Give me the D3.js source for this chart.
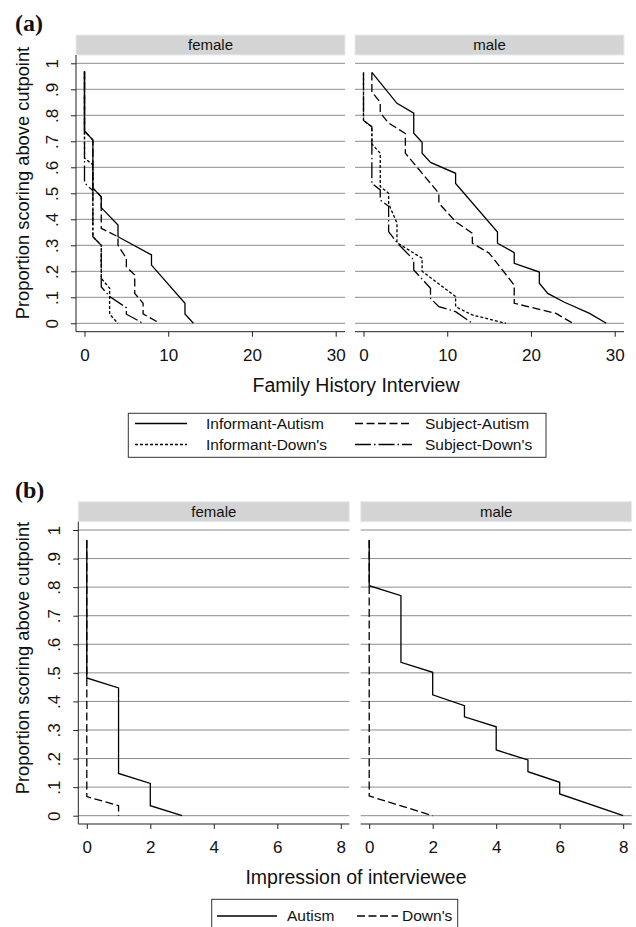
<!DOCTYPE html>
<html>
<head>
<meta charset="utf-8">
<script src="https://cdnjs.cloudflare.com/ajax/libs/d3/7.8.5/d3.min.js"></script>
<style>
body { margin: 0; background: #fff; }
text { font-family: "Liberation Sans", Arial, Helvetica, sans-serif; fill: #111; }
</style>
</head>
<body>
<div id="chart-area"></div>
<script>
// ---- data ----
var panels = ["female", "male"];
var yTicks = [0, .1, .2, .3, .4, .5, .6, .7, .8, .9, 1];
var yTickLabels = ["0", ".1", ".2", ".3", ".4", ".5", ".6", ".7", ".8", ".9", "1"];
var fhiTicks = [0, 10, 20, 30];
var impTicks = [0, 2, 4, 6, 8];

// (a) Family History Interview - female
var fInfAutism = [[0,.968],[0,.74],[1,.705],[1,.52],[2,.487],[2,.445],[4,.378],[4,.333],[8,.263],[8,.224],[12,.077],[12,.036],[13,0]];
var fSubAutism = [[0,.968],[0,.74],[1,.705],[1,.52],[2,.487],[2,.365],[4,.333],[4,.3],[5,.25],[5,.218],[6,.186],[6,.115],[7,.077],[7,.036],[9,0]];
var fInfDowns  = [[0,.968],[0,.635],[1,.61],[1,.333],[2,.30],[2,.173],[3,.135],[3,.035],[4,0]];
var fSubDowns  = [[0,.968],[0,.54],[1,.51],[1,.333],[2,.30],[2,.14],[3,.103],[5,.06],[5,.035],[7,0]];
// (a) Family History Interview - male
var mInfAutism = [[1,.965],[4,.846],[6,.808],[6,.731],[7,.696],[7,.654],[8,.619],[11,.577],[11,.538],[16,.351],[16,.308],[18,.272],[18,.231],[21,.197],[21,.154],[22,.115],[24,.081],[27,.038],[29,0]];
var mSubAutism = [[1,.965],[1,.89],[2,.85],[2,.81],[3,.77],[5,.73],[5,.654],[9,.5],[9,.462],[11,.391],[13,.346],[13,.308],[15,.27],[18,.147],[18,.077],[23,.038],[25,0]];
var mInfDowns  = [[0,.965],[0,.78],[1,.756],[1,.69],[2,.654],[2,.526],[3,.5],[3,.46],[4,.385],[4,.31],[7,.25],[7,.2],[11,.103],[11,.064],[13,.032],[17,0]];
var mSubDowns  = [[0,.965],[0,.78],[1,.756],[1,.538],[2,.513],[2,.474],[3,.45],[3,.353],[4,.31],[6,.244],[6,.205],[8,.135],[8,.096],[9,.064],[11,.045],[13,0]];

// (b) Impression of interviewee
var fAutismB = [[0,.965],[0,.482],[1,.447],[1,.148],[2,.113],[2,.035],[3,0]];
var fDownsB  = [[0,.965],[0,.067],[1,.035],[1,0]];
var mAutismB = [[0,.965],[0,.805],[1,.77],[1,.537],[2,.502],[2,.423],[3,.385],[3,.346],[4,.311],[4,.23],[5,.195],[5,.154],[6,.117],[6,.076],[8,0]];
var mDownsB  = [[0,.965],[0,.069],[2,0]];

var namesA = ["Informant-Autism", "Subject-Autism", "Informant-Down's", "Subject-Down's"];
var namesB = ["Autism", "Down's"];

// line styles
var dashes = {
  solid: null,
  dashed: "8,3.5",
  dotted: "3,2",
  dashdot: "16,3,1.5,3"
};

var W = 636, H = 927;
var svg = d3.select("#chart-area").append("svg")
    .attr("width", W)
    .attr("height", H);

function drawFigure(cfg) {
  var g = svg.append("g");

  // label (a)/(b)
  g.append("text")
    .attr("x", cfg.tagX).attr("y", cfg.tagY)
    .style("font-family", "'Liberation Serif', 'Times New Roman', serif")
    .style("font-weight", "bold")
    .style("font-size", "24px")
    .text(cfg.tag);

  var stripTop = cfg.top, stripH = 20;
  var plotTop = stripTop + stripH;
  var y = d3.scaleLinear().domain([0, 1]).range([cfg.y0, cfg.y1]);

  cfg.lefts.forEach(function(left, i) {
    var p = g.append("g").attr("transform", "translate(" + left + ",0)");
    var x = d3.scaleLinear().domain(cfg.xDomain)
      .range([cfg.xPad, cfg.xPad + cfg.xSpan]);

    // strip
    p.append("rect")
      .attr("x", 0).attr("y", stripTop)
      .attr("width", cfg.panelW).attr("height", stripH)
      .attr("fill", "#d4d4d4")
      .attr("stroke", "#e6ebf0").attr("stroke-width", 1);
    p.append("text")
      .attr("x", cfg.panelW / 2).attr("y", stripTop + stripH / 2)
      .attr("dy", "0.35em")
      .attr("text-anchor", "middle")
      .style("font-size", "15px")
      .text(panels[i]);

    // gridlines
    p.selectAll(".grid").data(yTicks).enter().append("line")
      .attr("class", "grid")
      .attr("x1", 0).attr("x2", cfg.panelW)
      .attr("y1", function(d){ return y(d); })
      .attr("y2", function(d){ return y(d); })
      .attr("stroke", "#8c8c8c").attr("stroke-width", 1);

    // x axis
    var xAxis = p.append("g")
      .attr("transform", "translate(0," + cfg.axisY + ")")
      .call(d3.axisBottom(x).tickValues(cfg.xTicks).tickSize(5).tickSizeOuter(0));
    xAxis.select(".domain").remove();
    xAxis.append("line")
      .attr("x1", 0).attr("x2", cfg.panelW)
      .attr("stroke", "#222");
    xAxis.selectAll(".tick line").attr("stroke", "#222");
    xAxis.selectAll(".tick text")
      .attr("y", 29).attr("dy", 0)
      .style("font-size", "17px")
      .style("font-family", "'Liberation Sans', Arial, sans-serif")
      .attr("fill", "#111");

    // y axis on first panel only
    if (i === 0) {
      var yAxis = p.append("g")
        .call(d3.axisLeft(y).tickValues(yTicks).tickSize(5)
          .tickFormat(function(d, k){ return yTickLabels[k]; }));
      yAxis.select(".domain").remove();
      yAxis.append("line")
        .attr("y1", plotTop).attr("y2", cfg.axisY)
        .attr("stroke", "#222");
      yAxis.selectAll(".tick line").attr("stroke", "#222");
      yAxis.selectAll(".tick text")
        .attr("transform", "rotate(-90)")
        .attr("x", 0).attr("y", -18.5).attr("dy", 0)
        .attr("text-anchor", "middle")
        .style("font-size", "17px")
        .style("font-family", "'Liberation Sans', Arial, sans-serif")
        .attr("fill", "#111");
    }

    // series
    var line = d3.line()
      .x(function(d){ return x(d[0]); })
      .y(function(d){ return y(d[1]); });
    cfg.series[i].forEach(function(s, k) {
      p.append("path")
        .attr("d", line(s))
        .attr("fill", "none")
        .attr("stroke", "#000")
        .attr("stroke-width", 1.3)
        .attr("stroke-dasharray", dashes[cfg.styles[k]]);
    });
  });

  // axis titles
  g.append("text")
    .attr("transform", "translate(" + cfg.yTitleX + "," + cfg.yTitleY + ") rotate(-90)")
    .attr("text-anchor", "middle")
    .style("font-size", "18.3px")
    .text("Proportion scoring above cutpoint");
  g.append("text")
    .attr("x", 356).attr("y", cfg.axisY + 60)
    .attr("text-anchor", "middle")
    .style("font-size", "19.5px")
    .text(cfg.xTitle);

  // legend
  var lg = cfg.legend;
  g.append("rect")
    .attr("x", lg.x).attr("y", lg.y)
    .attr("width", lg.w).attr("height", lg.h)
    .attr("fill", "#fff").attr("stroke", "#333").attr("stroke-width", 1);
  lg.items.forEach(function(it, k) {
    g.append("line")
      .attr("x1", it.x1).attr("x2", it.x2)
      .attr("y1", it.y).attr("y2", it.y)
      .attr("stroke", "#000").attr("stroke-width", 1.3)
      .attr("stroke-dasharray", dashes[cfg.styles[k]]);
    g.append("text")
      .attr("x", it.tx).attr("y", it.y).attr("dy", "0.35em")
      .style("font-size", "15.5px")
      .text(cfg.names[k]);
  });
}

// (a)
drawFigure({
  tag: "(a)", tagX: 15, tagY: 31,
  top: 35, y1: 63.3, y0: 323.3, axisY: 331.7,
  lefts: [76, 355], panelW: 269, xPad: 8.5, xSpan: 251.2,
  xDomain: [0, 30], xTicks: fhiTicks,
  xTitle: "Family History Interview",
  yTitleX: 29, yTitleY: 183,
  series: [[fInfAutism, fSubAutism, fInfDowns, fSubDowns],
           [mInfAutism, mSubAutism, mInfDowns, mSubDowns]],
  styles: ["solid", "dashed", "dotted", "dashdot"],
  names: [namesA[0], namesA[1], namesA[2], namesA[3]],
  legend: {
    x: 128.3, y: 413.3, w: 417.7, h: 44,
    items: [
      {x1: 135, x2: 187, y: 423.5, tx: 206},
      {x1: 355, x2: 412, y: 423.5, tx: 425},
      {x1: 135, x2: 187, y: 444.5, tx: 206},
      {x1: 355, x2: 412, y: 444.5, tx: 425}
    ]
  }
});
// (b)
drawFigure({
  tag: "(b)", tagX: 15, tagY: 498,
  top: 501.7, y1: 530, y0: 815.7, axisY: 824,
  lefts: [78.3, 360.7], panelW: 271, xPad: 8.5, xSpan: 254,
  xDomain: [0, 8], xTicks: impTicks,
  xTitle: "Impression of interviewee",
  yTitleX: 29, yTitleY: 658,
  series: [[fAutismB, fDownsB], [mAutismB, mDownsB]],
  styles: ["solid", "dashed"],
  names: namesB,
  legend: {
    x: 211.7, y: 899.3, w: 246, h: 40,
    items: [
      {x1: 217, x2: 277, y: 916, tx: 287},
      {x1: 357, x2: 398, y: 916, tx: 402}
    ]
  }
});
</script>
</body>
</html>
